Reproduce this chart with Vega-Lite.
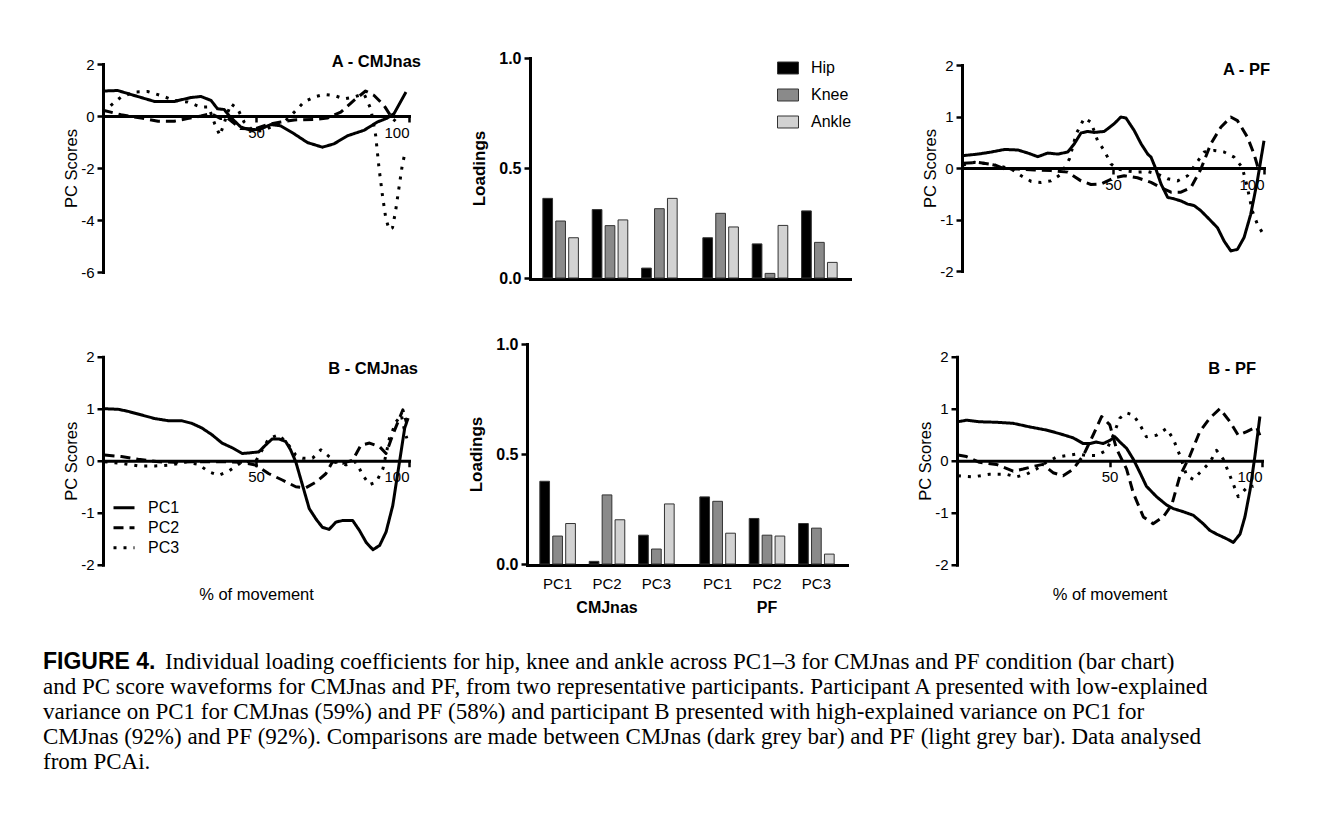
{
  "$schema": "https://vega.github.io/schema/vega-lite/v6.json",
  "background": "white",
  "padding": {"left": 43, "top": 50, "right": 10, "bottom": 10},
  "config": {
    "font": "Liberation Sans",
    "view": {"stroke": null},
    "axis": {"grid": false, "domainColor": "#000000", "domainWidth": 3, "domainCap": "square", "tickColor": "#000000", "tickWidth": 2.5, "tickSize": 6, "labelColor": "#000000", "titleColor": "#000000", "labelFontSize": 15, "titleFontSize": 16.5, "titleFontWeight": "normal", "labelPadding": 3},
    "legend": {"labelFontSize": 16, "labelColor": "#000000"},
    "title": {"color": "#000000"}
  },
  "datasets": {
    "aCMJ": [
      {"pc":"PC1","pct":0,"score":0.96},{"pc":"PC1","pct":4.8,"score":0.98},{"pc":"PC1","pct":10.2,"score":0.79},{"pc":"PC1","pct":16.8,"score":0.56},{"pc":"PC1","pct":23.3,"score":0.56},{"pc":"PC1","pct":28.7,"score":0.71},{"pc":"PC1","pct":32,"score":0.75},{"pc":"PC1","pct":35.3,"score":0.6},{"pc":"PC1","pct":37.4,"score":0.28},{"pc":"PC1","pct":39.6,"score":0.25},{"pc":"PC1","pct":41.6,"score":-0.04},{"pc":"PC1","pct":45,"score":-0.42},{"pc":"PC1","pct":48.3,"score":-0.55},{"pc":"PC1","pct":51.5,"score":-0.5},{"pc":"PC1","pct":54.8,"score":-0.33},{"pc":"PC1","pct":58.1,"score":-0.38},{"pc":"PC1","pct":62.4,"score":-0.68},{"pc":"PC1","pct":66.8,"score":-1.02},{"pc":"PC1","pct":71.7,"score":-1.2},{"pc":"PC1","pct":75.5,"score":-1.07},{"pc":"PC1","pct":79.9,"score":-0.76},{"pc":"PC1","pct":85.3,"score":-0.55},{"pc":"PC1","pct":89.7,"score":-0.23},{"pc":"PC1","pct":92.9,"score":-0.08},{"pc":"PC1","pct":95.1,"score":0.09},{"pc":"PC1","pct":99,"score":0.92},
      {"pc":"PC2","pct":0,"score":0.22},{"pc":"PC2","pct":5.9,"score":0.05},{"pc":"PC2","pct":12.5,"score":-0.08},{"pc":"PC2","pct":18,"score":-0.2},{"pc":"PC2","pct":23.3,"score":-0.2},{"pc":"PC2","pct":27.6,"score":-0.1},{"pc":"PC2","pct":32,"score":0},{"pc":"PC2","pct":35.3,"score":0.09},{"pc":"PC2","pct":38.5,"score":-0.1},{"pc":"PC2","pct":40.7,"score":-0.08},{"pc":"PC2","pct":45,"score":-0.48},{"pc":"PC2","pct":49.4,"score":-0.5},{"pc":"PC2","pct":53.7,"score":-0.33},{"pc":"PC2","pct":58.1,"score":-0.23},{"pc":"PC2","pct":62.5,"score":-0.15},{"pc":"PC2","pct":69,"score":-0.13},{"pc":"PC2","pct":73.3,"score":-0.08},{"pc":"PC2","pct":77.7,"score":0.15},{"pc":"PC2","pct":82,"score":0.6},{"pc":"PC2","pct":85.8,"score":0.96},{"pc":"PC2","pct":88.6,"score":0.79},{"pc":"PC2","pct":91.8,"score":0.41},{"pc":"PC2","pct":94.6,"score":-0.1},{"pc":"PC2","pct":95.6,"score":-0.2},
      {"pc":"PC3","pct":0,"score":0.15},{"pc":"PC3","pct":2.6,"score":0.41},{"pc":"PC3","pct":5.9,"score":0.73},{"pc":"PC3","pct":10.2,"score":0.92},{"pc":"PC3","pct":14.6,"score":0.94},{"pc":"PC3","pct":18.9,"score":0.79},{"pc":"PC3","pct":23.3,"score":0.6},{"pc":"PC3","pct":27.6,"score":0.54},{"pc":"PC3","pct":32,"score":0.34},{"pc":"PC3","pct":34.5,"score":0.35},{"pc":"PC3","pct":36.5,"score":-0.3},{"pc":"PC3","pct":38.2,"score":-0.75},{"pc":"PC3","pct":39.8,"score":-0.2},{"pc":"PC3","pct":41.8,"score":0.47},{"pc":"PC3","pct":44,"score":0.28},{"pc":"PC3","pct":46.1,"score":-0.23},{"pc":"PC3","pct":49.4,"score":-0.6},{"pc":"PC3","pct":52.7,"score":-0.55},{"pc":"PC3","pct":55.9,"score":-0.36},{"pc":"PC3","pct":59.2,"score":-0.23},{"pc":"PC3","pct":62.5,"score":0.15},{"pc":"PC3","pct":65.7,"score":0.54},{"pc":"PC3","pct":69,"score":0.73},{"pc":"PC3","pct":72.3,"score":0.83},{"pc":"PC3","pct":75.5,"score":0.79},{"pc":"PC3","pct":78.8,"score":0.66},{"pc":"PC3","pct":82,"score":0.73},{"pc":"PC3","pct":85.3,"score":0.85},{"pc":"PC3","pct":87.5,"score":0.28},{"pc":"PC3","pct":89.1,"score":-0.74},{"pc":"PC3","pct":90.2,"score":-2.0},{"pc":"PC3","pct":91.3,"score":-3.03},{"pc":"PC3","pct":92.4,"score":-3.92},{"pc":"PC3","pct":93.5,"score":-4.37},{"pc":"PC3","pct":94.6,"score":-4.3},{"pc":"PC3","pct":95.6,"score":-3.67},{"pc":"PC3","pct":96.7,"score":-2.78},{"pc":"PC3","pct":97.8,"score":-1.89},{"pc":"PC3","pct":98.4,"score":-1.57}
    ],
    "aPF": [
      {"pc":"PC1","pct":0.3,"score":0.24},{"pc":"PC1","pct":5.3,"score":0.27},{"pc":"PC1","pct":9.7,"score":0.31},{"pc":"PC1","pct":14.1,"score":0.36},{"pc":"PC1","pct":18.5,"score":0.35},{"pc":"PC1","pct":21.8,"score":0.29},{"pc":"PC1","pct":25.1,"score":0.22},{"pc":"PC1","pct":28.4,"score":0.29},{"pc":"PC1","pct":31.7,"score":0.27},{"pc":"PC1","pct":35,"score":0.31},{"pc":"PC1","pct":37.2,"score":0.47},{"pc":"PC1","pct":39.4,"score":0.68},{"pc":"PC1","pct":41.6,"score":0.71},{"pc":"PC1","pct":43.8,"score":0.69},{"pc":"PC1","pct":47.1,"score":0.71},{"pc":"PC1","pct":50.4,"score":0.86},{"pc":"PC1","pct":52.6,"score":0.99},{"pc":"PC1","pct":54.3,"score":0.97},{"pc":"PC1","pct":57,"score":0.73},{"pc":"PC1","pct":59.3,"score":0.47},{"pc":"PC1","pct":61.5,"score":0.27},{"pc":"PC1","pct":62.6,"score":0.21},{"pc":"PC1","pct":64.2,"score":-0.02},{"pc":"PC1","pct":65.9,"score":-0.31},{"pc":"PC1","pct":68.1,"score":-0.57},{"pc":"PC1","pct":70.3,"score":-0.6},{"pc":"PC1","pct":72.5,"score":-0.64},{"pc":"PC1","pct":74.7,"score":-0.7},{"pc":"PC1","pct":76.9,"score":-0.73},{"pc":"PC1","pct":79.1,"score":-0.83},{"pc":"PC1","pct":81.8,"score":-0.99},{"pc":"PC1","pct":84.6,"score":-1.16},{"pc":"PC1","pct":86.8,"score":-1.42},{"pc":"PC1","pct":89,"score":-1.61},{"pc":"PC1","pct":91.2,"score":-1.58},{"pc":"PC1","pct":93.4,"score":-1.35},{"pc":"PC1","pct":95.6,"score":-0.9},{"pc":"PC1","pct":97.8,"score":-0.25},{"pc":"PC1","pct":100,"score":0.53},
      {"pc":"PC2","pct":0.3,"score":0.09},{"pc":"PC2","pct":5.3,"score":0.11},{"pc":"PC2","pct":10.8,"score":0.06},{"pc":"PC2","pct":14.1,"score":-0.02},{"pc":"PC2","pct":18.5,"score":-0.02},{"pc":"PC2","pct":24,"score":-0.04},{"pc":"PC2","pct":29.5,"score":-0.05},{"pc":"PC2","pct":35,"score":-0.08},{"pc":"PC2","pct":39.4,"score":-0.25},{"pc":"PC2","pct":42.7,"score":-0.32},{"pc":"PC2","pct":46,"score":-0.31},{"pc":"PC2","pct":50.4,"score":-0.19},{"pc":"PC2","pct":53.7,"score":-0.15},{"pc":"PC2","pct":58.1,"score":-0.19},{"pc":"PC2","pct":62.6,"score":-0.28},{"pc":"PC2","pct":65.9,"score":-0.38},{"pc":"PC2","pct":69.2,"score":-0.47},{"pc":"PC2","pct":72.5,"score":-0.47},{"pc":"PC2","pct":75.8,"score":-0.38},{"pc":"PC2","pct":79.1,"score":-0.02},{"pc":"PC2","pct":82.4,"score":0.47},{"pc":"PC2","pct":85.7,"score":0.79},{"pc":"PC2","pct":89,"score":0.99},{"pc":"PC2","pct":91.2,"score":0.92},{"pc":"PC2","pct":94.5,"score":0.6},{"pc":"PC2","pct":96.7,"score":0.27},{"pc":"PC2","pct":98.3,"score":-0.05},
      {"pc":"PC3","pct":0.3,"score":0.06},{"pc":"PC3","pct":4.2,"score":0.11},{"pc":"PC3","pct":8.6,"score":0.08},{"pc":"PC3","pct":13,"score":0.03},{"pc":"PC3","pct":16.3,"score":-0.02},{"pc":"PC3","pct":19.6,"score":-0.15},{"pc":"PC3","pct":22.9,"score":-0.26},{"pc":"PC3","pct":26.2,"score":-0.28},{"pc":"PC3","pct":29.5,"score":-0.25},{"pc":"PC3","pct":32.8,"score":-0.12},{"pc":"PC3","pct":35.6,"score":0.18},{"pc":"PC3","pct":37.8,"score":0.66},{"pc":"PC3","pct":40.5,"score":0.97},{"pc":"PC3","pct":42.7,"score":0.89},{"pc":"PC3","pct":44.9,"score":0.53},{"pc":"PC3","pct":47.1,"score":0.34},{"pc":"PC3","pct":49.3,"score":0.08},{"pc":"PC3","pct":51.5,"score":-0.02},{"pc":"PC3","pct":54.8,"score":-0.06},{"pc":"PC3","pct":58.1,"score":-0.08},{"pc":"PC3","pct":61.5,"score":-0.07},{"pc":"PC3","pct":64.8,"score":-0.12},{"pc":"PC3","pct":68.1,"score":-0.21},{"pc":"PC3","pct":71.4,"score":-0.25},{"pc":"PC3","pct":74.7,"score":-0.15},{"pc":"PC3","pct":77.4,"score":0.08},{"pc":"PC3","pct":80.2,"score":0.31},{"pc":"PC3","pct":83.5,"score":0.34},{"pc":"PC3","pct":86.8,"score":0.31},{"pc":"PC3","pct":90.1,"score":0.21},{"pc":"PC3","pct":92.8,"score":0.01},{"pc":"PC3","pct":94.5,"score":-0.38},{"pc":"PC3","pct":96.1,"score":-0.83},{"pc":"PC3","pct":97.8,"score":-1.09},{"pc":"PC3","pct":99.4,"score":-1.25}
    ],
    "bCMJ": [
      {"pc":"PC1","pct":0.5,"score":1.0},{"pc":"PC1","pct":4.9,"score":0.99},{"pc":"PC1","pct":8.2,"score":0.95},{"pc":"PC1","pct":12.6,"score":0.88},{"pc":"PC1","pct":17,"score":0.81},{"pc":"PC1","pct":21.4,"score":0.77},{"pc":"PC1","pct":25.7,"score":0.77},{"pc":"PC1","pct":29,"score":0.72},{"pc":"PC1","pct":32.3,"score":0.63},{"pc":"PC1","pct":35.6,"score":0.5},{"pc":"PC1","pct":38.9,"score":0.34},{"pc":"PC1","pct":42.2,"score":0.25},{"pc":"PC1","pct":45.5,"score":0.14},{"pc":"PC1","pct":47.6,"score":0.15},{"pc":"PC1","pct":50.9,"score":0.17},{"pc":"PC1","pct":53.1,"score":0.3},{"pc":"PC1","pct":55.3,"score":0.42},{"pc":"PC1","pct":57.5,"score":0.42},{"pc":"PC1","pct":59.7,"score":0.37},{"pc":"PC1","pct":61.3,"score":0.21},{"pc":"PC1","pct":63,"score":-0.02},{"pc":"PC1","pct":65.2,"score":-0.47},{"pc":"PC1","pct":67.4,"score":-0.92},{"pc":"PC1","pct":69.6,"score":-1.12},{"pc":"PC1","pct":71.7,"score":-1.28},{"pc":"PC1","pct":73.9,"score":-1.32},{"pc":"PC1","pct":76.1,"score":-1.18},{"pc":"PC1","pct":78.3,"score":-1.15},{"pc":"PC1","pct":81.6,"score":-1.15},{"pc":"PC1","pct":83.8,"score":-1.34},{"pc":"PC1","pct":86,"score":-1.57},{"pc":"PC1","pct":88.2,"score":-1.71},{"pc":"PC1","pct":90.4,"score":-1.63},{"pc":"PC1","pct":92.5,"score":-1.37},{"pc":"PC1","pct":94.7,"score":-0.86},{"pc":"PC1","pct":96.9,"score":-0.02},{"pc":"PC1","pct":98.6,"score":0.63},{"pc":"PC1","pct":99.7,"score":0.82},
      {"pc":"PC2","pct":0.5,"score":0.11},{"pc":"PC2","pct":6,"score":0.08},{"pc":"PC2","pct":11.5,"score":0.03},{"pc":"PC2","pct":18.1,"score":-0.02},{"pc":"PC2","pct":23.5,"score":-0.03},{"pc":"PC2","pct":29,"score":-0.02},{"pc":"PC2","pct":34.5,"score":-0.02},{"pc":"PC2","pct":40,"score":-0.02},{"pc":"PC2","pct":45.5,"score":-0.03},{"pc":"PC2","pct":49.8,"score":-0.08},{"pc":"PC2","pct":54.2,"score":-0.25},{"pc":"PC2","pct":58.6,"score":-0.37},{"pc":"PC2","pct":63,"score":-0.5},{"pc":"PC2","pct":66.3,"score":-0.52},{"pc":"PC2","pct":69.6,"score":-0.41},{"pc":"PC2","pct":72.8,"score":-0.25},{"pc":"PC2","pct":75,"score":-0.02},{"pc":"PC2","pct":78.3,"score":-0.05},{"pc":"PC2","pct":81.6,"score":0.01},{"pc":"PC2","pct":84.3,"score":0.3},{"pc":"PC2","pct":87.1,"score":0.34},{"pc":"PC2","pct":90.4,"score":0.27},{"pc":"PC2","pct":92.5,"score":0.14},{"pc":"PC2","pct":94.7,"score":0.5},{"pc":"PC2","pct":96.9,"score":0.82},{"pc":"PC2","pct":98,"score":0.98},{"pc":"PC2","pct":99.1,"score":0.75},
      {"pc":"PC3","pct":0.5,"score":-0.02},{"pc":"PC3","pct":6,"score":-0.05},{"pc":"PC3","pct":11.5,"score":-0.1},{"pc":"PC3","pct":17,"score":-0.1},{"pc":"PC3","pct":22.5,"score":-0.08},{"pc":"PC3","pct":26.8,"score":-0.02},{"pc":"PC3","pct":31.2,"score":-0.07},{"pc":"PC3","pct":34.5,"score":-0.21},{"pc":"PC3","pct":37.8,"score":-0.28},{"pc":"PC3","pct":41.1,"score":-0.2},{"pc":"PC3","pct":45.5,"score":-0.02},{"pc":"PC3","pct":49.8,"score":-0.02},{"pc":"PC3","pct":54.2,"score":0.43},{"pc":"PC3","pct":57.5,"score":0.5},{"pc":"PC3","pct":60.8,"score":0.29},{"pc":"PC3","pct":63,"score":0.11},{"pc":"PC3","pct":65.2,"score":0.05},{"pc":"PC3","pct":68.5,"score":0.05},{"pc":"PC3","pct":71.2,"score":0.21},{"pc":"PC3","pct":73.9,"score":0.08},{"pc":"PC3","pct":76.1,"score":-0.02},{"pc":"PC3","pct":79.4,"score":-0.08},{"pc":"PC3","pct":82.7,"score":-0.02},{"pc":"PC3","pct":84.9,"score":-0.28},{"pc":"PC3","pct":87.1,"score":-0.46},{"pc":"PC3","pct":89.3,"score":-0.41},{"pc":"PC3","pct":91.5,"score":-0.15},{"pc":"PC3","pct":93.6,"score":0.43},{"pc":"PC3","pct":95.8,"score":0.75},{"pc":"PC3","pct":97.5,"score":0.88},{"pc":"PC3","pct":98.6,"score":0.56},{"pc":"PC3","pct":99.3,"score":0.43}
    ],
    "bPF": [
      {"pc":"PC1","pct":0.3,"score":0.75},{"pc":"PC1","pct":3.1,"score":0.78},{"pc":"PC1","pct":7.4,"score":0.75},{"pc":"PC1","pct":12.9,"score":0.74},{"pc":"PC1","pct":18.4,"score":0.72},{"pc":"PC1","pct":23.9,"score":0.65},{"pc":"PC1","pct":29.3,"score":0.59},{"pc":"PC1","pct":33.7,"score":0.52},{"pc":"PC1","pct":38.1,"score":0.44},{"pc":"PC1","pct":41.4,"score":0.33},{"pc":"PC1","pct":43.5,"score":0.33},{"pc":"PC1","pct":45.7,"score":0.36},{"pc":"PC1","pct":47.9,"score":0.33},{"pc":"PC1","pct":50.1,"score":0.39},{"pc":"PC1","pct":51.8,"score":0.46},{"pc":"PC1","pct":53.4,"score":0.36},{"pc":"PC1","pct":55.6,"score":0.24},{"pc":"PC1","pct":57.8,"score":0.03},{"pc":"PC1","pct":60,"score":-0.23},{"pc":"PC1","pct":62.1,"score":-0.49},{"pc":"PC1","pct":65.4,"score":-0.69},{"pc":"PC1","pct":68.7,"score":-0.85},{"pc":"PC1","pct":70.9,"score":-0.92},{"pc":"PC1","pct":74.2,"score":-0.98},{"pc":"PC1","pct":77.5,"score":-1.05},{"pc":"PC1","pct":80.7,"score":-1.21},{"pc":"PC1","pct":82.9,"score":-1.34},{"pc":"PC1","pct":85.1,"score":-1.41},{"pc":"PC1","pct":88.4,"score":-1.5},{"pc":"PC1","pct":90.6,"score":-1.57},{"pc":"PC1","pct":92.8,"score":-1.41},{"pc":"PC1","pct":94.4,"score":-1.08},{"pc":"PC1","pct":96.1,"score":-0.56},{"pc":"PC1","pct":97.7,"score":0.1},{"pc":"PC1","pct":99.3,"score":0.85},
      {"pc":"PC2","pct":0.3,"score":0.11},{"pc":"PC2","pct":3.1,"score":0.08},{"pc":"PC2","pct":7.4,"score":-0.03},{"pc":"PC2","pct":12.9,"score":-0.07},{"pc":"PC2","pct":18.4,"score":-0.2},{"pc":"PC2","pct":21.7,"score":-0.16},{"pc":"PC2","pct":24.9,"score":-0.11},{"pc":"PC2","pct":28.2,"score":-0.07},{"pc":"PC2","pct":31.5,"score":-0.23},{"pc":"PC2","pct":34.8,"score":-0.29},{"pc":"PC2","pct":38.1,"score":-0.16},{"pc":"PC2","pct":41.4,"score":0.1},{"pc":"PC2","pct":44.6,"score":0.49},{"pc":"PC2","pct":47.4,"score":0.85},{"pc":"PC2","pct":50.1,"score":0.69},{"pc":"PC2","pct":52.3,"score":0.23},{"pc":"PC2","pct":55.6,"score":-0.16},{"pc":"PC2","pct":57.8,"score":-0.62},{"pc":"PC2","pct":61.1,"score":-1.08},{"pc":"PC2","pct":64.3,"score":-1.21},{"pc":"PC2","pct":67.6,"score":-1.08},{"pc":"PC2","pct":70.4,"score":-0.85},{"pc":"PC2","pct":73.1,"score":-0.29},{"pc":"PC2","pct":76.4,"score":0.1},{"pc":"PC2","pct":79.6,"score":0.56},{"pc":"PC2","pct":82.9,"score":0.82},{"pc":"PC2","pct":86.2,"score":1.0},{"pc":"PC2","pct":89.5,"score":0.75},{"pc":"PC2","pct":92.2,"score":0.49},{"pc":"PC2","pct":95,"score":0.56},{"pc":"PC2","pct":98.2,"score":0.65},{"pc":"PC2","pct":99.3,"score":0.49},
      {"pc":"PC3","pct":0.3,"score":-0.29},{"pc":"PC3","pct":5.3,"score":-0.31},{"pc":"PC3","pct":10.7,"score":-0.26},{"pc":"PC3","pct":16.2,"score":-0.26},{"pc":"PC3","pct":19.5,"score":-0.31},{"pc":"PC3","pct":22.8,"score":-0.26},{"pc":"PC3","pct":26,"score":-0.16},{"pc":"PC3","pct":29.3,"score":-0.03},{"pc":"PC3","pct":32.6,"score":0.07},{"pc":"PC3","pct":35.9,"score":0.1},{"pc":"PC3","pct":39.2,"score":0.13},{"pc":"PC3","pct":42.5,"score":0.1},{"pc":"PC3","pct":45.7,"score":0.1},{"pc":"PC3","pct":49,"score":0.2},{"pc":"PC3","pct":51.2,"score":0.49},{"pc":"PC3","pct":53.4,"score":0.82},{"pc":"PC3","pct":55.6,"score":0.92},{"pc":"PC3","pct":57.8,"score":0.88},{"pc":"PC3","pct":60,"score":0.69},{"pc":"PC3","pct":62.1,"score":0.46},{"pc":"PC3","pct":65.4,"score":0.49},{"pc":"PC3","pct":68.7,"score":0.62},{"pc":"PC3","pct":70.9,"score":0.42},{"pc":"PC3","pct":73.1,"score":0.1},{"pc":"PC3","pct":75.3,"score":-0.29},{"pc":"PC3","pct":77.5,"score":-0.36},{"pc":"PC3","pct":79.6,"score":-0.23},{"pc":"PC3","pct":82.9,"score":-0.03},{"pc":"PC3","pct":85.1,"score":0.2},{"pc":"PC3","pct":87.3,"score":0.03},{"pc":"PC3","pct":89.5,"score":-0.29},{"pc":"PC3","pct":92.2,"score":-0.69},{"pc":"PC3","pct":95,"score":-0.52},{"pc":"PC3","pct":97.2,"score":-0.49}
    ],
    "barsA": [
      {"condition":"CMJnas","pc":"PC1","joint":"Hip","loading":0.362},{"condition":"CMJnas","pc":"PC1","joint":"Knee","loading":0.259},{"condition":"CMJnas","pc":"PC1","joint":"Ankle","loading":0.183},
      {"condition":"CMJnas","pc":"PC2","joint":"Hip","loading":0.311},{"condition":"CMJnas","pc":"PC2","joint":"Knee","loading":0.238},{"condition":"CMJnas","pc":"PC2","joint":"Ankle","loading":0.264},
      {"condition":"CMJnas","pc":"PC3","joint":"Hip","loading":0.045},{"condition":"CMJnas","pc":"PC3","joint":"Knee","loading":0.315},{"condition":"CMJnas","pc":"PC3","joint":"Ankle","loading":0.362},
      {"condition":"PF","pc":"PC1","joint":"Hip","loading":0.183},{"condition":"PF","pc":"PC1","joint":"Knee","loading":0.294},{"condition":"PF","pc":"PC1","joint":"Ankle","loading":0.232},
      {"condition":"PF","pc":"PC2","joint":"Hip","loading":0.155},{"condition":"PF","pc":"PC2","joint":"Knee","loading":0.021},{"condition":"PF","pc":"PC2","joint":"Ankle","loading":0.239},
      {"condition":"PF","pc":"PC3","joint":"Hip","loading":0.305},{"condition":"PF","pc":"PC3","joint":"Knee","loading":0.162},{"condition":"PF","pc":"PC3","joint":"Ankle","loading":0.071}
    ],
    "barsB": [
      {"condition":"CMJnas","pc":"PC1","joint":"Hip","loading":0.376},{"condition":"CMJnas","pc":"PC1","joint":"Knee","loading":0.127},{"condition":"CMJnas","pc":"PC1","joint":"Ankle","loading":0.184},
      {"condition":"CMJnas","pc":"PC2","joint":"Hip","loading":0.012},{"condition":"CMJnas","pc":"PC2","joint":"Knee","loading":0.314},{"condition":"CMJnas","pc":"PC2","joint":"Ankle","loading":0.201},
      {"condition":"CMJnas","pc":"PC3","joint":"Hip","loading":0.131},{"condition":"CMJnas","pc":"PC3","joint":"Knee","loading":0.068},{"condition":"CMJnas","pc":"PC3","joint":"Ankle","loading":0.273},
      {"condition":"PF","pc":"PC1","joint":"Hip","loading":0.305},{"condition":"PF","pc":"PC1","joint":"Knee","loading":0.285},{"condition":"PF","pc":"PC1","joint":"Ankle","loading":0.14},
      {"condition":"PF","pc":"PC2","joint":"Hip","loading":0.207},{"condition":"PF","pc":"PC2","joint":"Knee","loading":0.131},{"condition":"PF","pc":"PC2","joint":"Ankle","loading":0.127},
      {"condition":"PF","pc":"PC3","joint":"Hip","loading":0.184},{"condition":"PF","pc":"PC3","joint":"Knee","loading":0.163},{"condition":"PF","pc":"PC3","joint":"Ankle","loading":0.045}
    ],
    "caption": [
      {"line":1,"kind":"bold","text":"FIGURE 4."},
      {"line":1,"kind":"first","text":"Individual loading coefficients for hip, knee and ankle across PC1–3 for CMJnas and PF condition (bar chart)"},
      {"line":2,"kind":"plain","text":"and PC score waveforms for CMJnas and PF, from two representative participants. Participant A presented with low-explained"},
      {"line":3,"kind":"plain","text":"variance on PC1 for CMJnas (59%) and PF (58%) and participant B presented with high-explained variance on PC1 for"},
      {"line":4,"kind":"plain","text":"CMJnas (92%) and PF (92%). Comparisons are made between CMJnas (dark grey bar) and PF (light grey bar). Data analysed"},
      {"line":5,"kind":"plain","text":"from PCAi."}
    ]
  },
  "vconcat": [
    {
      "vconcat": [
        {
          "hconcat": [
            {
              "hconcat": [
                {
                  "width": 306, "height": 208,
                  "title": {"text": "A -  CMJnas", "anchor": "end", "frame": "group", "offset": -13, "dx": 12, "fontSize": 16.5, "fontWeight": "bold"},
                  "data": {"name": "aCMJ"},
                  "mark": {"type": "line", "color": "#000000", "strokeWidth": 3, "strokeJoin": "round"},
                  "encoding": {
                    "x": {"field": "pct", "type": "quantitative", "scale": {"domain": [0, 100], "nice": false}, "axis": {"values": [50, 100], "offset": -156, "title": null}},
                    "y": {"field": "score", "type": "quantitative", "scale": {"domain": [-6, 2], "nice": false}, "axis": {"values": [-6, -4, -2, 0, 2], "labelExpr": "replace(datum.label, '−', '-')", "title": "PC Scores", "titlePadding": 1}},
                    "strokeDash": {"field": "pc", "type": "nominal", "scale": {"domain": ["PC1", "PC2", "PC3"], "range": [[1, 0], [10, 6], [3, 7]]}, "legend": null}
                  }
                },
                {
                  "data": {"name": "barsA"},
                  "facet": {"column": {"field": "condition", "type": "nominal", "sort": ["CMJnas", "PF"], "header": {"labels": false, "title": null}}},
                  "spacing": 0,
                  "spec": {
                    "width": 160, "height": 220,
                    "mark": {"type": "bar", "stroke": "#333333", "strokeWidth": 1},
                    "encoding": {
                      "x": {"field": "pc", "type": "nominal", "scale": {"paddingInner": 0.28, "paddingOuter": 0.26}, "axis": {"labels": false, "ticks": false, "title": null}},
                      "xOffset": {"field": "joint", "type": "nominal", "sort": ["Hip", "Knee", "Ankle"], "scale": {"paddingInner": 0.25, "paddingOuter": 0}},
                      "y": {"field": "loading", "type": "quantitative", "scale": {"domain": [0, 1], "nice": false}, "axis": {"values": [0, 0.5, 1], "format": ".1f", "title": "Loadings", "labelFontWeight": "bold", "labelFontSize": 16, "titleFontWeight": "bold", "titleFontSize": 17, "titlePadding": 10}},
                      "fill": {"field": "joint", "type": "nominal", "scale": {"domain": ["Hip", "Knee", "Ankle"], "range": ["#000000", "#8a8a8a", "#d2d2d2"]},
                        "legend": {"orient": "none", "legendX": 247, "legendY": -1, "title": null, "symbolType": "M-1,-0.57H1V0.57H-1Z", "symbolSize": 441, "symbolStrokeColor": "#333333", "symbolStrokeWidth": 1, "labelFontSize": 16, "rowPadding": 8, "labelOffset": 12}}
                    }
                  }
                }
              ],
              "spacing": 49,
              "center": true,
              "resolve": {"scale": {"strokeDash": "independent", "fill": "independent"}, "legend": {"strokeDash": "independent", "fill": "independent"}}
            },
            {
              "width": 302, "height": 206,
              "title": {"text": "A - PF", "anchor": "end", "frame": "group", "offset": -20, "dx": 6, "fontSize": 16.5, "fontWeight": "bold"},
              "data": {"name": "aPF"},
              "mark": {"type": "line", "color": "#000000", "strokeWidth": 3, "strokeJoin": "round"},
              "encoding": {
                "x": {"field": "pct", "type": "quantitative", "scale": {"domain": [0, 100], "nice": false}, "axis": {"values": [50, 100], "offset": -103, "title": null}},
                "y": {"field": "score", "type": "quantitative", "scale": {"domain": [-2, 2], "nice": false}, "axis": {"values": [-2, -1, 0, 1, 2], "labelExpr": "replace(datum.label, '−', '-')", "title": "PC Scores", "titlePadding": 1}},
                "strokeDash": {"field": "pc", "type": "nominal", "scale": {"domain": ["PC1", "PC2", "PC3"], "range": [[1, 0], [10, 6], [3, 7]]}, "legend": null}
              }
            }
          ],
          "spacing": 70,
          "center": true,
          "resolve": {"scale": {"strokeDash": "independent", "fill": "independent"}, "legend": {"strokeDash": "independent", "fill": "independent"}}
        },
        {
          "hconcat": [
            {
              "hconcat": [
                {
                  "width": 306, "height": 208,
                  "title": {"text": "B - CMJnas", "anchor": "end", "frame": "group", "offset": -28, "dx": 9, "fontSize": 16.5, "fontWeight": "bold"},
                  "data": {"name": "bCMJ"},
                  "mark": {"type": "line", "color": "#000000", "strokeWidth": 3, "strokeJoin": "round"},
                  "encoding": {
                    "x": {"field": "pct", "type": "quantitative", "scale": {"domain": [0, 100], "nice": false}, "axis": {"values": [50, 100], "offset": -104, "title": "% of movement", "titleY": 126}},
                    "y": {"field": "score", "type": "quantitative", "scale": {"domain": [-2, 2], "nice": false}, "axis": {"values": [-2, -1, 0, 1, 2], "labelExpr": "replace(datum.label, '−', '-')", "title": "PC Scores", "titlePadding": 1}},
                    "strokeDash": {"field": "pc", "type": "nominal", "scale": {"domain": ["PC1", "PC2", "PC3"], "range": [[1, 0], [10, 6], [3, 7]]},
                      "legend": {"orient": "bottom-left", "title": null, "symbolType": "stroke", "symbolStrokeColor": "#000000", "symbolStrokeWidth": 3, "symbolSize": 441, "labelFontSize": 16, "rowPadding": -2, "labelOffset": 12, "offset": 9}}
                  }
                },
                {
                  "data": {"name": "barsB"},
                  "facet": {"column": {"field": "condition", "type": "nominal", "sort": ["CMJnas", "PF"], "header": {"labelOrient": "bottom", "title": null, "labelFontWeight": "bold", "labelFontSize": 16, "labelPadding": 9, "labelColor": "#000000"}}},
                  "spacing": 0,
                  "spec": {
                    "width": 160, "height": 220,
                    "mark": {"type": "bar", "stroke": "#333333", "strokeWidth": 1},
                    "encoding": {
                      "x": {"field": "pc", "type": "nominal", "scale": {"paddingInner": 0.28, "paddingOuter": 0.26}, "axis": {"ticks": false, "title": null, "labelAngle": 0, "labelPadding": 11}},
                      "xOffset": {"field": "joint", "type": "nominal", "sort": ["Hip", "Knee", "Ankle"], "scale": {"paddingInner": 0.25, "paddingOuter": 0}},
                      "y": {"field": "loading", "type": "quantitative", "scale": {"domain": [0, 1], "nice": false}, "axis": {"values": [0, 0.5, 1], "format": ".1f", "title": "Loadings", "labelFontWeight": "bold", "labelFontSize": 16, "titleFontWeight": "bold", "titleFontSize": 17, "titlePadding": 10}},
                      "fill": {"field": "joint", "type": "nominal", "scale": {"domain": ["Hip", "Knee", "Ankle"], "range": ["#000000", "#8a8a8a", "#d2d2d2"]}, "legend": null}
                    }
                  }
                }
              ],
              "spacing": 49,
              "center": true,
              "resolve": {"scale": {"strokeDash": "independent", "fill": "independent"}, "legend": {"strokeDash": "independent", "fill": "independent"}}
            },
            {
              "width": 305, "height": 208,
              "title": {"text": "B - PF", "anchor": "end", "frame": "group", "offset": -28, "dx": -6, "fontSize": 16.5, "fontWeight": "bold"},
              "data": {"name": "bPF"},
              "mark": {"type": "line", "color": "#000000", "strokeWidth": 3, "strokeJoin": "round"},
              "encoding": {
                "x": {"field": "pct", "type": "quantitative", "scale": {"domain": [0, 100], "nice": false}, "axis": {"values": [50, 100], "offset": -104, "title": "% of movement", "titleY": 126}},
                "y": {"field": "score", "type": "quantitative", "scale": {"domain": [-2, 2], "nice": false}, "axis": {"values": [-2, -1, 0, 1, 2], "labelExpr": "replace(datum.label, '−', '-')", "title": "PC Scores", "titlePadding": 1}},
                "strokeDash": {"field": "pc", "type": "nominal", "scale": {"domain": ["PC1", "PC2", "PC3"], "range": [[1, 0], [10, 6], [3, 7]]}, "legend": null}
              }
            }
          ],
          "spacing": 70,
          "center": true,
          "resolve": {"scale": {"strokeDash": "independent", "fill": "independent"}, "legend": {"strokeDash": "independent", "fill": "independent"}}
        }
      ],
      "spacing": 50,
      "resolve": {"scale": {"strokeDash": "independent", "fill": "independent"}, "legend": {"strokeDash": "independent", "fill": "independent"}}
    },
    {
      "width": 1230, "height": 100,
      "data": {"name": "caption"},
      "encoding": {
        "y": {"field": "line", "type": "ordinal", "scale": {"type": "point", "padding": 0}, "axis": null},
        "x": {"value": 0},
        "text": {"field": "text"}
      },
      "layer": [
        {"transform": [{"filter": "datum.kind === 'bold'"}], "mark": {"type": "text", "align": "left", "baseline": "middle", "font": "Liberation Sans", "fontWeight": "bold", "fontSize": 23, "dx": -60, "color": "#000000"}},
        {"transform": [{"filter": "datum.kind === 'first'"}], "mark": {"type": "text", "align": "left", "baseline": "middle", "font": "Liberation Serif", "fontSize": 23, "dx": 62, "color": "#000000"}},
        {"transform": [{"filter": "datum.kind === 'plain'"}], "mark": {"type": "text", "align": "left", "baseline": "middle", "font": "Liberation Serif", "fontSize": 23, "dx": -60, "color": "#000000"}}
      ]
    }
  ],
  "spacing": 35,
  "resolve": {"scale": {"strokeDash": "independent", "fill": "independent"}, "legend": {"strokeDash": "independent", "fill": "independent"}}
}
